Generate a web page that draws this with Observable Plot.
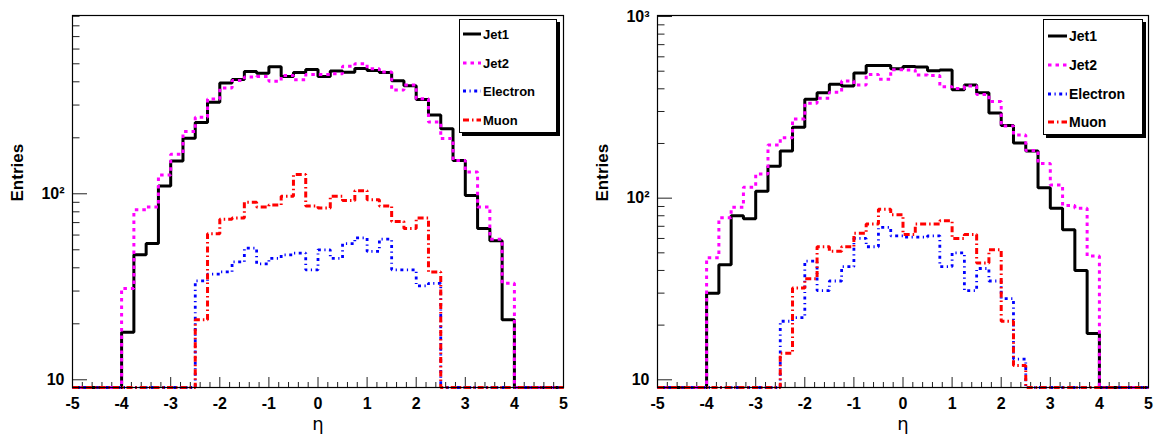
<!DOCTYPE html>
<html>
<head>
<meta charset="utf-8">
<script src="https://cdn.jsdelivr.net/npm/d3@7"></script>
<script src="https://cdn.jsdelivr.net/npm/@observablehq/plot@0.6"></script>
<style>
  html, body { margin: 0; padding: 0; background: #fff; }
  #chart { position: relative; width: 1157px; height: 437px; overflow: hidden; font-family: "Liberation Sans", Arial, Helvetica, sans-serif; }
  #chart svg.plot { position: absolute; top: 0; }
  .legend { position: absolute; box-sizing: border-box; background: #fff; border: 1px solid #000; box-shadow: 3px 3px 0 #000; }
  .legend .row { position: absolute; left: 0; display: flex; align-items: center; height: 20px; margin-top: -10px; font-weight: bold; color: #000; white-space: nowrap; }
  .legend .row svg { display: block; }
</style>
</head>
<body>
<div id="chart"></div>
<script>
// ---- data ----
const etaEdges = [-5,-4.75,-4.5,-4.25,-4,-3.75,-3.5,-3.25,-3,-2.75,-2.5,-2.25,-2,-1.75,-1.5,-1.25,-1,-0.75,-0.5,-0.25,
                  0,0.25,0.5,0.75,1,1.25,1.5,1.75,2,2.25,2.5,2.75,3,3.25,3.5,3.75,4,4.25,4.5,4.75,5];
const seriesNames = ["Jet1", "Jet2", "Electron", "Muon"];

const jet1Left = [0,0,0,0, 18,47,54,110,150,199,242,311, 394,412,455,445,482,427,449,466,
                  427,457,450,472,460,449,405,381, 321,265,224,151,98,65,56,21, 0,0,0,0];
const jet2Left = [0,0,0,0, 31,82,85,126,163,216,258,323, 371,407,424,427,403,433,410,438,
                  438,442,485,500,470,451,361,384, 324,243,198,151,131,85,57,33, 0,0,0,0];
const electronLeft = [0,0,0,0,0,0,0,0,0,0, 34,37,38,43,51,42,45,47,48,39,
                      50,45,54,58,49,57,39,39,32,33, 0,0,0,0,0,0,0,0,0,0];
const muonLeft = [0,0,0,0,0,0,0,0,0,0, 21,61,73,74,90,85,87,97,127,86,
                  84,97,92,104,93,86,71,65,74,38, 0,0,0,0,0,0,0,0,0,0];

const jet1Right = [0,0,0,0, 30,43,80,77,109,150,182,246, 350,380,424,415,488,537,537,515,
                   531,527,503,508,395,420,381,294, 251,201,182,114,88,67,40,18, 0,0,0,0];
const jet2Right = [0,0,0,0, 47,78,89,115,136,196,215,273, 333,355,383,442,420,480,452,510,
                   508,477,473,411,402,414,372,340, 250,223,183,155,118,91,88,48, 0,0,0,0];
const electronRight = [0,0,0,0,0,0,0,0,0,0, 21,22,45,31,35,42,60,54,69,62,
                       61,61,62,42,50,31,41,35,28,13, 0,0,0,0,0,0,0,0,0,0];
const muonRight = [0,0,0,0,0,0,0,0,0,0, 14,32,36,54,51,54,64,72,87,81,
                   63,72,72,75,60,63,44,52,21,12, 0,0,0,0,0,0,0,0,0,0];

const xTickLabels = [-5,-4,-3,-2,-1,0,1,2,3,4,5];
const yTicksLeft = [10, 100];
const yTicksRight = [10, 100, 1000];
const yTickText = {10: "10", 100: "10²", 1000: "10³"};

// ---- styles ----
const styles = {
  Jet1:     {stroke: "#000000", strokeWidth: 3,   strokeDasharray: null},
  Jet2:     {stroke: "#ff00ff", strokeWidth: 3,   strokeDasharray: "3.5,4"},
  Electron: {stroke: "#0000ff", strokeWidth: 2.8, strokeDasharray: "3,3.5,1.2,3.5"},
  Muon:     {stroke: "#ff0000", strokeWidth: 3,   strokeDasharray: "6,3,1.5,3"}
};

function stepData(values) {
  // one point per bin low edge, plus the final upper edge repeating the last bin
  return etaEdges.map((e, i) => ({eta: e, n: values[Math.min(i, values.length - 1)]}));
}

function panel({series, yDomain, yTicks, width, marginLeft, marginRight, left}) {
  const height = 437, marginTop = 15, marginBottom = 50;
  const frameW = width - marginLeft - marginRight;
  const frameH = height - marginTop - marginBottom;
  const yMin = yDomain[0];
  const minorY = [];
  for (const dec of [10, 100, 1000]) for (let k = 2; k <= 9; k++) {
    const v = dec * k; if (v > yDomain[0] && v < yDomain[1]) minorY.push(v);
  }
  const minorX = d3.range(-50, 51, 2).map(d => d / 10).filter(d => !Number.isInteger(d));
  const lineMarks = seriesNames.map((name, i) =>
    Plot.line(stepData(series[i]), {
      x: "eta", y: d => Math.max(d.n, yMin), curve: "step-after",
      stroke: styles[name].stroke, strokeWidth: styles[name].strokeWidth,
      strokeDasharray: styles[name].strokeDasharray, strokeLinejoin: "miter", strokeLinecap: "butt"
    })
  );
  const svg = Plot.plot({
    width, height, marginTop, marginBottom, marginLeft, marginRight,
    x: {domain: [-5, 5]},
    y: {type: "log", domain: yDomain},
    style: {fontFamily: "'Liberation Sans', Arial, Helvetica, sans-serif", background: "transparent", color: "#000"},
    marks: [
      Plot.ruleY(minorY, {y: d => d, insetRight: frameW - 7.5, stroke: "#222", strokeWidth: 1}),
      Plot.ruleY(yTicks, {y: d => d, insetRight: frameW - 15, stroke: "#222", strokeWidth: 1}),
      Plot.ruleX(minorX, {x: d => d, insetTop: frameH - 5, stroke: "#222", strokeWidth: 1}),
      Plot.ruleX(xTickLabels, {x: d => d, insetTop: frameH - 10, stroke: "#222", strokeWidth: 1}),
      Plot.axisX({ticks: xTickLabels, tickSize: 0, tickPadding: 10, tickFormat: d => String(d),
                  fontSize: 16, fontWeight: "bold", label: null}),
      Plot.axisY({ticks: yTicks, tickSize: 0, tickPadding: 8, tickFormat: d => yTickText[d],
                  fontSize: 16, fontWeight: "bold", label: null}),
      ...lineMarks,
      Plot.frame({stroke: "#000", strokeWidth: 1.2}),
      Plot.text(["η"], {frameAnchor: "bottom", dy: 42, fontSize: 18, fontFamily: "'DejaVu Sans', sans-serif"}),
      Plot.text(["Entries"], {frameAnchor: "left", dx: -55, rotate: -90, fontSize: 17, fontWeight: "bold"})
    ]
  });
  svg.classList.add("plot");
  svg.style.left = left + "px";
  return svg;
}

function legend({left, top, width, height, rowYs, sampleX, textX, fontSize}) {
  const box = document.createElement("div");
  box.className = "legend";
  Object.assign(box.style, {left: left + "px", top: top + "px", width: width + "px", height: height + "px", fontSize: fontSize + "px"});
  seriesNames.forEach((name, i) => {
    const row = document.createElement("div");
    row.className = "row";
    row.style.top = rowYs[i] + "px";
    row.style.left = sampleX + "px";
    const s = styles[name];
    const len = textX - sampleX - 2;
    row.innerHTML = `<svg width="${len + 2}" height="20"><line x1="0" y1="10" x2="${len}" y2="10" stroke="${s.stroke}" stroke-width="${s.strokeWidth}" ${s.strokeDasharray ? `stroke-dasharray="${s.strokeDasharray}"` : ""}/></svg><span>${name}</span>`;
    box.appendChild(row);
  });
  return box;
}

const chart = document.getElementById("chart");
chart.appendChild(panel({
  series: [jet1Left, jet2Left, electronLeft, muonLeft],
  yDomain: [9.09, 909], yTicks: yTicksLeft,
  width: 578, marginLeft: 72, marginRight: 15, left: 0
}));
chart.appendChild(panel({
  series: [jet1Right, jet2Right, electronRight, muonRight],
  yDomain: [9.07, 1013], yTicks: yTicksRight,
  width: 579, marginLeft: 79, marginRight: 9, left: 578
}));
chart.appendChild(legend({left: 459, top: 19, width: 98, height: 114, rowYs: [14, 43, 71, 100], sampleX: 3, textX: 23, fontSize: 13}));
chart.appendChild(legend({left: 1043, top: 19, width: 100, height: 116, rowYs: [16, 45, 74, 102], sampleX: 4, textX: 25, fontSize: 14}));
</script>
</body>
</html>
